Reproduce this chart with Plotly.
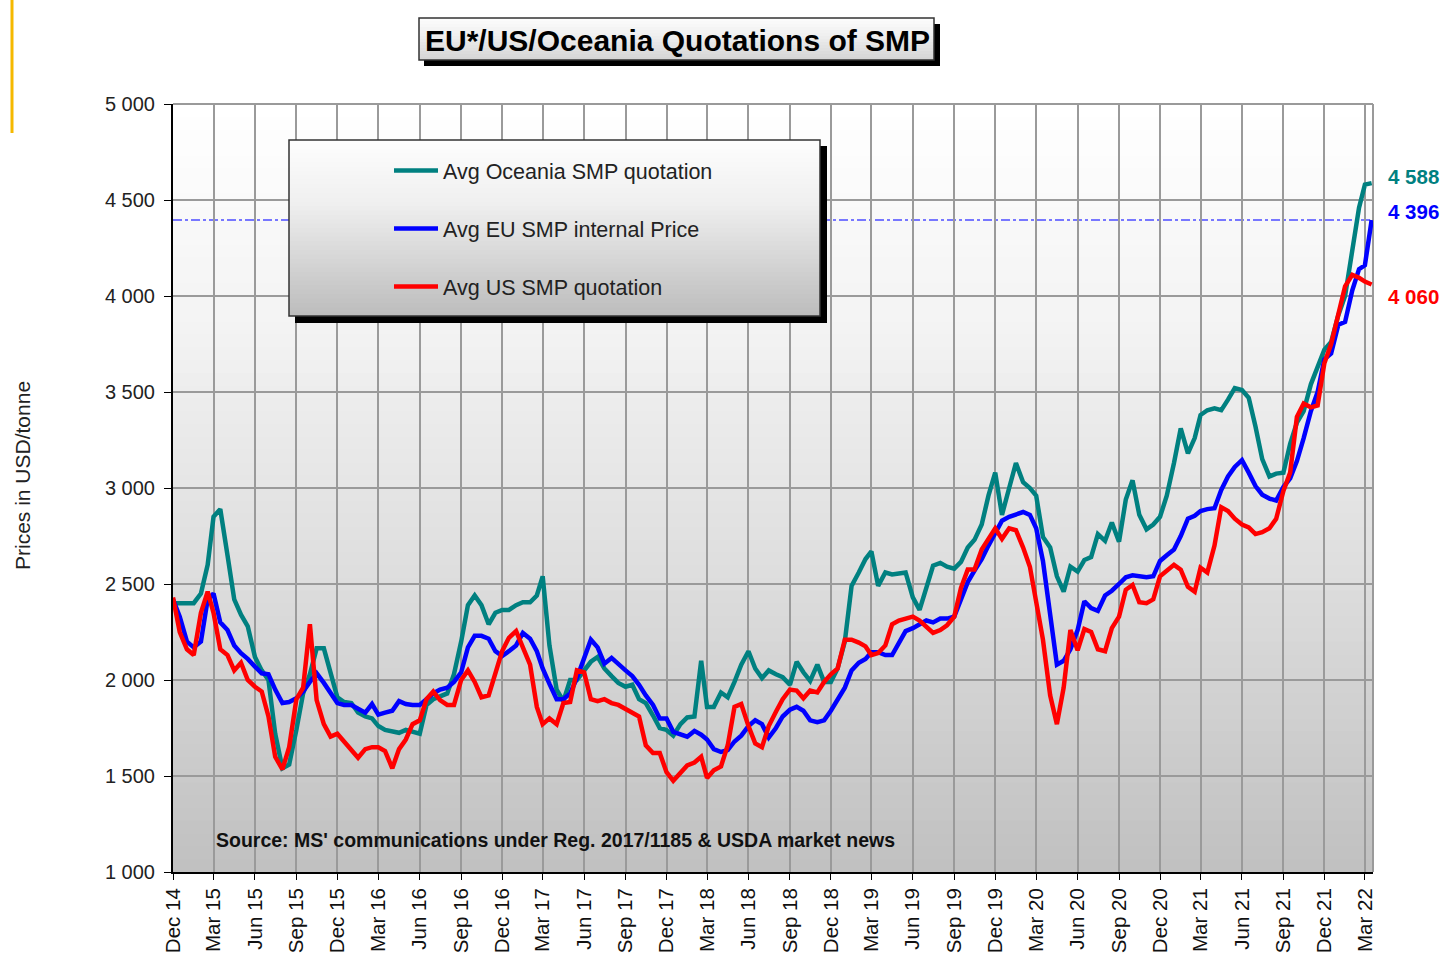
import plotly.graph_objects as go

# ---------------- data (semi-monthly quotations, USD/tonne) ----------------
oceania = [
    2400, 2400, 2400, 2400, 2450, 2600, 2850, 2890, 2650, 2420,
    2340, 2280, 2120, 2050, 2000, 1720, 1540, 1560, 1740, 1930,
    2030, 2165, 2165, 2030, 1910, 1885, 1880, 1830, 1810, 1800,
    1760, 1740, 1730, 1725, 1740, 1730, 1720, 1870, 1900, 1915,
    1930, 2030, 2200, 2390, 2440, 2390, 2290, 2350, 2365, 2365,
    2390, 2405, 2405, 2440, 2540, 2180, 1950, 1890, 2000, 2000,
    2050, 2095, 2120, 2060, 2020, 1985, 1965, 1975, 1900, 1880,
    1815, 1750, 1740, 1710, 1770, 1805, 1810, 2100, 1860, 1860,
    1935, 1910, 1990, 2080, 2150, 2060, 2010, 2050, 2030, 2015,
    1975, 2095, 2040, 1995, 2080, 1990, 1990, 2060, 2200, 2490,
    2560, 2630, 2670, 2490, 2560, 2550, 2555, 2560, 2430, 2365,
    2480, 2595, 2610, 2590, 2580, 2615, 2690, 2730, 2810, 2960,
    3080, 2860, 3000, 3130, 3030, 3000, 2960, 2745, 2690, 2540,
    2460, 2590, 2565, 2625, 2640, 2760, 2725, 2820, 2720, 2940,
    3040, 2860, 2785, 2810, 2850, 2960, 3130, 3310, 3180, 3260,
    3380, 3405, 3415, 3405, 3460, 3520, 3510, 3470, 3320, 3150,
    3060, 3075, 3080, 3230, 3340, 3400, 3540, 3630, 3720, 3760,
    3900, 4000, 4230, 4460, 4580, 4588,
]
eu = [
    2420, 2330, 2200, 2170, 2200, 2420, 2450, 2300, 2260, 2180,
    2140, 2110, 2070, 2035, 2030, 1950, 1880, 1885, 1905, 1940,
    1990, 2035, 1985, 1930, 1880, 1870, 1870, 1850, 1830, 1875,
    1820, 1830, 1840, 1890, 1875, 1870, 1870, 1900, 1930, 1950,
    1960, 1990, 2040, 2170, 2230, 2230, 2215, 2150, 2125, 2150,
    2180, 2245, 2215, 2150, 2060, 1980, 1900, 1900, 1930, 2010,
    2110, 2210, 2170, 2085, 2115, 2080, 2050, 2020, 1975, 1920,
    1870, 1800, 1800, 1730, 1715, 1705, 1735, 1715, 1690, 1640,
    1625, 1635, 1680, 1710, 1760, 1790, 1770, 1700, 1750, 1810,
    1845, 1860, 1840, 1790, 1780, 1790, 1840, 1895, 1960, 2050,
    2090, 2110, 2145, 2145, 2130, 2130, 2195, 2255, 2270, 2290,
    2310, 2300, 2320, 2320, 2330, 2420, 2510, 2570, 2630, 2700,
    2760, 2830, 2850, 2865, 2875, 2860, 2790, 2620, 2340, 2080,
    2100, 2160, 2260, 2410, 2375, 2360, 2440, 2465, 2500, 2535,
    2545, 2540, 2535, 2540, 2620, 2650, 2680, 2750, 2840, 2855,
    2880, 2890, 2895, 2990, 3060, 3110, 3145, 3080, 3010, 2965,
    2945, 2935, 3005, 3050, 3140, 3260, 3400, 3500, 3670, 3700,
    3850, 3865, 4030, 4140, 4160, 4396,
]
us = [
    2430, 2250, 2160, 2130, 2350, 2460, 2350, 2160, 2130, 2050,
    2090, 2000, 1965, 1940, 1810, 1600, 1535, 1650, 1900, 1960,
    2290, 1895, 1770, 1705, 1720, 1680, 1640, 1595, 1640, 1650,
    1650, 1630, 1540, 1640, 1690, 1770, 1790, 1900, 1940, 1895,
    1870, 1870, 2000, 2050, 1990, 1910, 1920, 2030, 2150, 2220,
    2255, 2170, 2080, 1860, 1770, 1800, 1770, 1880, 1885, 2050,
    2040, 1900, 1890, 1900, 1880, 1870, 1850, 1830, 1810, 1660,
    1620, 1620, 1520, 1475, 1520, 1555, 1570, 1600, 1490, 1530,
    1550, 1660, 1860, 1875, 1760, 1670, 1650, 1760, 1835, 1900,
    1950, 1945, 1905, 1945, 1935, 1990, 2030, 2060, 2210, 2210,
    2195, 2175, 2130, 2140, 2180, 2290, 2310, 2320, 2330, 2310,
    2280, 2245, 2260, 2285, 2330, 2480, 2575, 2575, 2680, 2730,
    2790, 2735, 2790, 2780, 2690, 2590, 2420, 2210, 1920, 1770,
    1960, 2260, 2155, 2265, 2250, 2160, 2150, 2270, 2330, 2470,
    2495, 2405, 2400, 2420, 2540, 2570, 2600, 2575, 2485, 2460,
    2585, 2560, 2700, 2900, 2880, 2840, 2810, 2795, 2760, 2770,
    2790, 2840, 2985, 3080, 3370, 3440, 3420, 3430, 3650, 3750,
    3900, 4050, 4110, 4095, 4075, 4060,
]

# semi-monthly dates: 1st and 16th of each month, Dec 2014 .. Mar 2022
dates = []
y, m = 2014, 12
while (y, m) <= (2022, 3):
    dates.append(f"{y}-{m:02d}-01")
    dates.append(f"{y}-{m:02d}-16")
    m += 1
    if m > 12:
        m, y = 1, y + 1

y_ticks = [1000, 1500, 2000, 2500, 3000, 3500, 4000, 4500, 5000]
y_tick_text = [f"{v:,}".replace(",", " ") for v in y_ticks]

names = ["Avg Oceania SMP quotation", "Avg EU SMP internal Price", "Avg US SMP quotation"]
colors = ["#008080", "#0000ff", "#ff0000"]
series = [oceania, eu, us]

# ---------------- figure ----------------
FONT = "Liberation Sans, Arial, sans-serif"
fig = go.Figure()
for i, (nm, col, vals) in enumerate(zip(names, colors, series)):
    fig.add_trace(go.Scatter(
        x=dates, y=vals, mode="lines", name=nm,
        line=dict(color=col, width=4.5),
        legendgroup=f"g{i}",
    ))

# pixel helpers (screen coords of plot area: x 173..1373, y 104..872)
def px(xp):
    return (xp - 173) / 1200.0

def py(yp):
    return (872 - yp) / 768.0

def lerp_gray(stops, t):
    for (t0, c0), (t1, c1) in zip(stops[:-1], stops[1:]):
        if t <= t1:
            f = (t - t0) / (t1 - t0) if t1 > t0 else 0
            g = int(round(c0 + (c1 - c0) * f))
            return f"rgb({g},{g},{g})"
    g = stops[-1][1]
    return f"rgb({g},{g},{g})"

shapes = []

def gradient(x0, x1, y0, y1, stops, n, layer):
    # y0 = top (paper), y1 = bottom (paper); each band runs to the bottom so no seams
    for k in range(n):
        ta = k / n
        shapes.append(dict(
            type="rect", xref="paper", yref="paper", layer=layer,
            x0=x0, x1=x1, y0=y0 + (y1 - y0) * ta, y1=y1,
            fillcolor=lerp_gray(stops, (k + 0.5) / n), line=dict(width=0),
        ))

# plot-area background gradient
gradient(0, 1, 1, 0, [(0, 255), (0.29, 243), (0.62, 221), (1, 192)], 60, "below")

# reference line at last EU price
shapes.append(dict(type="line", xref="paper", yref="y", layer="between",
                   x0=0, x1=1, y0=eu[-1], y1=eu[-1],
                   line=dict(color="#7777ff", width=2, dash="dashdot")))

# plot border top/right
shapes.append(dict(type="line", xref="paper", yref="paper", x0=0, x1=1, y0=1, y1=1,
                   line=dict(color="#9a9a9a", width=2), layer="between"))
shapes.append(dict(type="line", xref="paper", yref="paper", x0=1, x1=1, y0=0, y1=1,
                   line=dict(color="#9a9a9a", width=2), layer="between"))

# legend box with shadow
shapes.append(dict(type="rect", xref="paper", yref="paper", layer="above",
                   x0=px(295), x1=px(827), y0=py(146), y1=py(323),
                   fillcolor="#000000", line=dict(width=0)))
gradient(px(289), px(820), py(140), py(316), [(0, 253), (0.35, 240), (1, 188)], 40, "above")
shapes.append(dict(type="rect", xref="paper", yref="paper", layer="above",
                   x0=px(289), x1=px(820), y0=py(140), y1=py(316),
                   line=dict(color="#333333", width=1.5)))

# title box with shadow
shapes.append(dict(type="rect", xref="paper", yref="paper", layer="above",
                   x0=px(424), x1=px(940), y0=py(24), y1=py(66),
                   fillcolor="#000000", line=dict(width=0)))
gradient(px(419), px(934), py(18), py(60), [(0, 252), (0.4, 240), (1, 212)], 14, "above")
shapes.append(dict(type="rect", xref="paper", yref="paper", layer="above",
                   x0=px(419), x1=px(934), y0=py(18), y1=py(60),
                   line=dict(color="#333333", width=1.5)))

# decorative orange bar at page left
shapes.append(dict(type="line", xref="paper", yref="paper", layer="above",
                   x0=px(12), x1=px(12), y0=py(0), y1=py(133),
                   line=dict(color="#f5b800", width=3)))

annotations = [
    dict(text="<b>EU*/US/Oceania Quotations of SMP</b>", xref="paper", yref="paper",
         x=px(677), y=py(40), showarrow=False, font=dict(size=30, color="#000", family=FONT),
         xanchor="center", yanchor="middle"),
    dict(text="<b>Source: MS' communications under Reg. 2017/1185 & USDA market news</b>",
         xref="paper", yref="paper", x=px(214), y=py(840), showarrow=False,
         xanchor="left", yanchor="middle", font=dict(size=19.5, color="#111", family=FONT)),
    dict(text="Prices in USD/tonne", xref="paper", yref="paper", x=px(22), y=py(476),
         textangle=-90, showarrow=False, xanchor="center", yanchor="middle",
         font=dict(size=21, color="#222", family=FONT)),
]
label_shift = [7, 8, -12]
for vals, col, sh in zip(series, colors, label_shift):
    annotations.append(dict(
        text=f"<b>{vals[-1]:,}</b>".replace(",", " "), xref="paper", yref="y",
        x=px(1386), y=vals[-1], yshift=sh, showarrow=False, xanchor="left",
        yanchor="middle", font=dict(size=20.5, color=col, family=FONT)))

fig.update_layout(
    width=1449, height=957,
    margin=dict(l=173, r=76, t=104, b=85, autoexpand=False),
    paper_bgcolor="white", plot_bgcolor="rgba(0,0,0,0)",
    font=dict(family=FONT, color="#222"),
    showlegend=True,
    legend=dict(x=px(389), y=py(150), xanchor="left", yanchor="top",
                bgcolor="rgba(0,0,0,0)", borderwidth=0,
                font=dict(size=21.5, color="#222", family=FONT),
                tracegroupgap=27, itemwidth=44),
    shapes=shapes, annotations=annotations,
    xaxis=dict(
        type="date", range=["2014-12-01", "2022-03-19"],
        tick0="2014-12-01", dtick="M3", tickformat="%b %y", tickangle=-90,
        showgrid=True, gridcolor="#9a9a9a", gridwidth=1.5,
        showline=True, linecolor="#000", linewidth=2,
        ticks="outside", ticklen=6, tickcolor="#000",
        tickfont=dict(size=20.5, color="#111", family=FONT),
        zeroline=False, automargin=False,
    ),
    yaxis=dict(
        range=[1000, 5000], tickvals=y_ticks, ticktext=y_tick_text,
        showgrid=True, gridcolor="#9a9a9a", gridwidth=1.5,
        showline=True, linecolor="#000", linewidth=2,
        ticks="outside", ticklen=7, tickcolor="#000", ticklabelstandoff=5,
        tickfont=dict(size=20, color="#222", family=FONT),
        zeroline=False, automargin=False,
    ),
)

# remove the default 8px page margin so the figure fills the 1449x957 window exactly
fig.write_html("out.html", config={"displayModeBar": False},
               post_script="document.body.style.margin='0';document.body.style.overflow='hidden';")
